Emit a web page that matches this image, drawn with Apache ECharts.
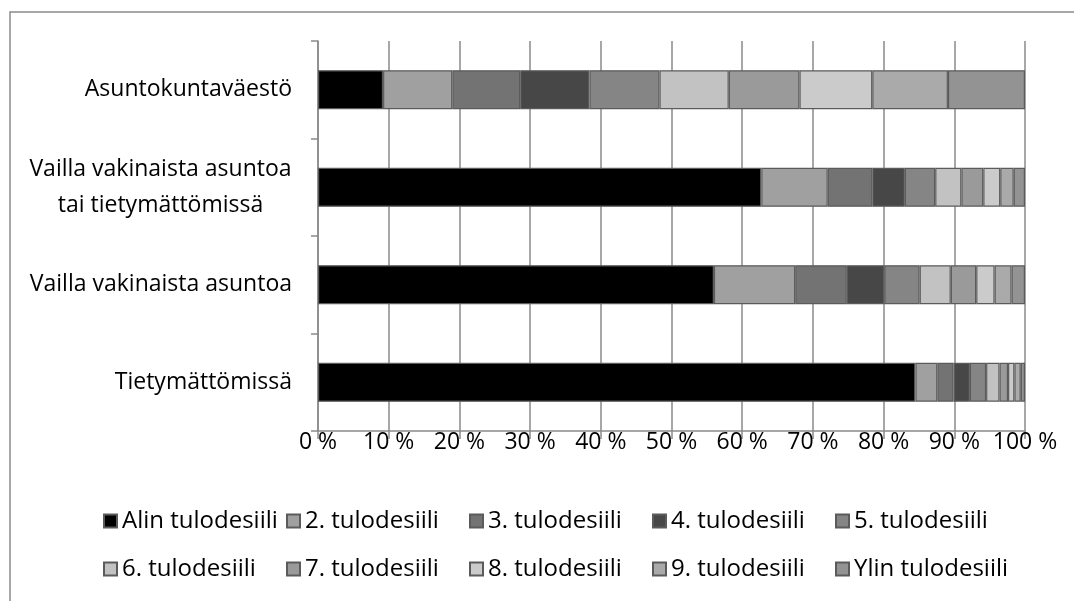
<!DOCTYPE html>
<html>
<head>
<meta charset="utf-8">
<script src="https://cdn.jsdelivr.net/npm/echarts@6/dist/echarts.min.js"></script>
<style>html,body{margin:0;padding:0;background:#fff}#c{width:1074px;height:601px}</style>
</head>
<body>
<div id="c"></div>
<script>
var categories = ['Asuntokuntaväestö', 'Vailla vakinaista asuntoa\ntai tietymättömissä', 'Vailla vakinaista asuntoa', 'Tietymättömissä'];
var seriesNames = ['Alin tulodesiili', '2. tulodesiili', '3. tulodesiili', '4. tulodesiili', '5. tulodesiili', '6. tulodesiili', '7. tulodesiili', '8. tulodesiili', '9. tulodesiili', 'Ylin tulodesiili'];
var alin = [9.2, 62.7, 56.0, 84.5];
var d2 = [9.8, 9.4, 11.5, 3.1];
var d3 = [9.6, 6.3, 7.3, 2.3];
var d4 = [9.8, 4.6, 5.3, 2.3];
var d5 = [9.9, 4.3, 5.0, 2.3];
var d6 = [9.8, 3.7, 4.4, 1.9];
var d7 = [10.0, 3.1, 3.6, 1.2];
var d8 = [10.3, 2.4, 2.6, 0.9];
var d9 = [10.7, 1.9, 2.4, 0.9];
var ylin = [10.9, 1.6, 1.9, 0.6];
var xTicks = [0, 10, 20, 30, 40, 50, 60, 70, 80, 90, 100];

var values = [alin, d2, d3, d4, d5, d6, d7, d8, d9, ylin];
var colors = ['#000000', '#a0a0a0', '#737373', '#474747', '#858585', '#c2c2c2', '#9a9a9a', '#cbcbcb', '#aaaaaa', '#939393'];
var FONT = '"Open Sans", sans-serif';
var AX_FS = 23;

var cv = document.createElement('canvas').getContext('2d');
cv.font = AX_FS + 'px "Open Sans"';

var chart = echarts.init(document.getElementById('c'), null, {renderer: 'canvas'});
var legendX = [103, 286, 469, 652, 835];
var legendTop = [509, 557];

var option = {
  backgroundColor: '#ffffff',
  animation: false,
  graphic: [{
    type: 'rect', silent: true,
    shape: {x: 10, y: 12, width: 1100, height: 700},
    style: {fill: 'none', stroke: '#8a8a8a', lineWidth: 1.5}
  }],
  grid: {left: 318, right: 49, top: 41, bottom: 170, containLabel: false},
  xAxis: {
    type: 'value', min: xTicks[0], max: xTicks[xTicks.length - 1], interval: xTicks[1] - xTicks[0],
    axisLine: {show: true, lineStyle: {color: '#8a8a8a', width: 1.5}},
    axisTick: {show: true, length: 8, lineStyle: {color: '#8a8a8a', width: 1.5}},
    splitLine: {show: true, lineStyle: {color: '#8a8a8a', width: 1.5}},
    axisLabel: {formatter: '{value} %', color: '#000', fontSize: AX_FS, fontFamily: FONT, margin: 0}
  },
  yAxis: {
    type: 'category', inverse: true, data: categories,
    axisLine: {show: true, lineStyle: {color: '#8a8a8a', width: 1.5}},
    axisTick: {show: true, length: 7, lineStyle: {color: '#8a8a8a', width: 1.5}},
    axisLabel: {
      color: '#000', fontSize: AX_FS, fontFamily: FONT, margin: 26, align: 'right', lineHeight: 36,
      formatter: function (v) {
        if (v.indexOf('\n') < 0) return v;
        var lines = v.split('\n');
        return lines.map(function (l) { return '{c|' + l + '}'; }).join('\n');
      },
      rich: {
        c: {
          width: Math.ceil(cv.measureText('Vailla vakinaista asuntoa').width),
          align: 'center', lineHeight: 36, fontSize: AX_FS, fontFamily: FONT, color: '#000'
        }
      }
    }
  },
  legend: seriesNames.map(function (n, i) {
    return {
      data: [n], left: legendX[i % 5], top: legendTop[Math.floor(i / 5)],
      padding: 0, itemGap: 0, itemWidth: 13, itemHeight: 13, icon: 'rect', selectedMode: false,
      textStyle: {fontSize: 24, fontFamily: FONT, color: '#000'}
    };
  }),
  series: seriesNames.map(function (n, i) {
    return {
      name: n, type: 'bar', stack: 'total', barWidth: 39,
      data: values[i],
      itemStyle: {color: colors[i], borderColor: '#5b5b5b', borderWidth: 1.2}
    };
  })
};
chart.setOption(option);
</script>
</body>
</html>
